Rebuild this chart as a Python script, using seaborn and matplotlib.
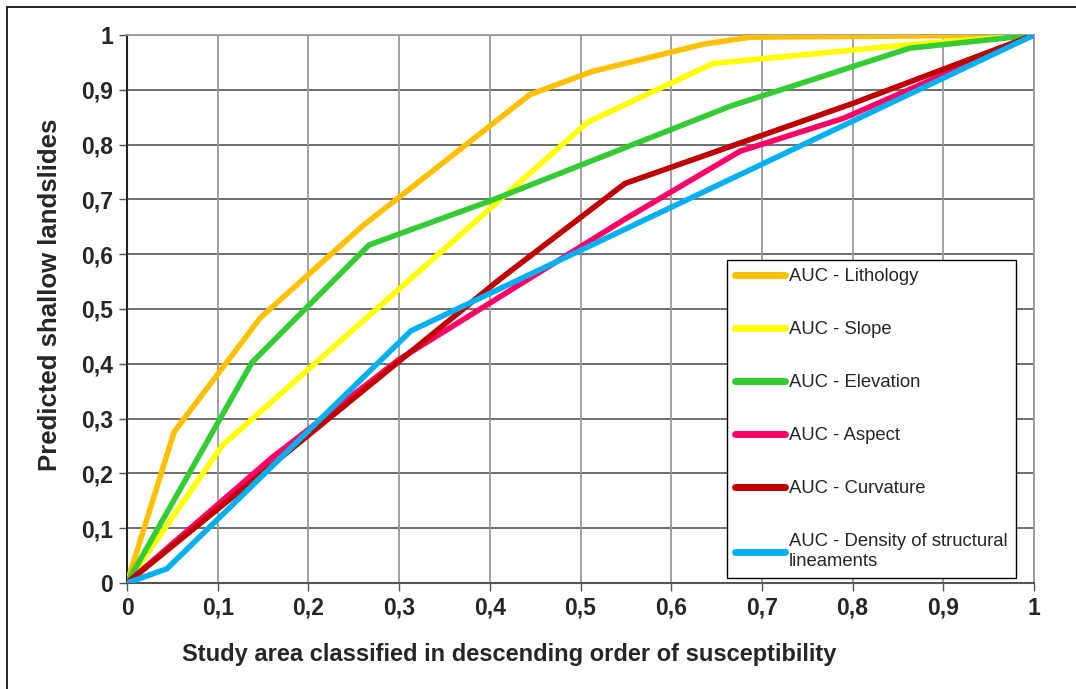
import numpy as np
import pandas as pd
import matplotlib
matplotlib.use("Agg")
import matplotlib.pyplot as plt
import seaborn as sns
from matplotlib.patches import Rectangle
from matplotlib.ticker import MultipleLocator, FuncFormatter

# ---- data ----
lith_x = [0, 0.052, 0.147, 0.260, 0.444, 0.512, 0.635, 0.687, 1.0]
lith_y = [0, 0.276, 0.484, 0.652, 0.891, 0.933, 0.983, 0.996, 1.0]

slope_x = [0, 0.105, 0.508, 0.646, 0.860, 1.0]
slope_y = [0, 0.251, 0.841, 0.948, 0.982, 1.0]

elev_x = [0, 0.138, 0.267, 0.400, 0.665, 0.863, 1.0]
elev_y = [0, 0.403, 0.617, 0.697, 0.870, 0.976, 1.0]

aspect_x = [0, 0.160, 0.300, 0.550, 0.676, 0.790, 1.0]
aspect_y = [0, 0.229, 0.408, 0.665, 0.788, 0.848, 1.0]

curv_x = [0, 0.410, 0.549, 0.800, 1.0]
curv_y = [0, 0.553, 0.729, 0.875, 1.0]

dens_x = [0, 0.044, 0.313, 1.0]
dens_y = [0, 0.026, 0.460, 1.0]

labels = ["AUC - Lithology", "AUC - Slope", "AUC - Elevation", "AUC - Aspect",
          "AUC - Curvature", "AUC - Density of structural\nlineaments"]
colors = ["#FFC000", "#FFFF00", "#33CC33", "#FF0066", "#C00000", "#00B0F0"]
series = [(lith_x, lith_y), (slope_x, slope_y), (elev_x, elev_y),
          (aspect_x, aspect_y), (curv_x, curv_y), (dens_x, dens_y)]

frames = []
for lab, (xs, ys) in zip(labels, series):
    frames.append(pd.DataFrame({"x": xs, "y": ys, "series": lab, "order": np.arange(len(xs))}))
df = pd.concat(frames, ignore_index=True)

sns.set_theme(style="white")
plt.rcParams['font.family'] = ['Liberation Sans', 'DejaVu Sans']

W, H = 1076, 689
fig = plt.figure(figsize=(W / 100, H / 100), dpi=100)
ax = fig.add_axes([127 / W, 1 - 583 / H, (1034 - 127) / W, (583 - 35) / H])

# outer frame
fig.patches.append(Rectangle((7 / W, -0.05), 1.2, 1 - 7 / H + 0.05, transform=fig.transFigure,
                             fill=False, edgecolor="black", linewidth=1.2, zorder=0))

# grid
for v in np.arange(0.1, 1.01, 0.1):
    ax.axhline(v, color="#6e6e6e", linewidth=1.4, zorder=1)
for v in np.arange(0.1, 1.01, 0.1):
    ax.axvline(v, color="#9a9a9a", linewidth=1.3, zorder=1)

sns.lineplot(data=df, x="x", y="y", hue="series", hue_order=labels, palette=colors,
             sort=False, estimator=None, units="series", linewidth=4.0, ax=ax, zorder=3,
             legend=True)

ax.set_xlim(0, 1)
ax.set_ylim(0, 1)
ax.xaxis.set_major_locator(MultipleLocator(0.1))
ax.yaxis.set_major_locator(MultipleLocator(0.1))
fmt = FuncFormatter(lambda v, p: ("%g" % round(v, 1)).replace(".", ","))
ax.xaxis.set_major_formatter(fmt)
ax.yaxis.set_major_formatter(fmt)
ax.tick_params(axis="both", which="major", direction="out", length=6, width=1,
               color="#555555", labelsize=16.5, pad=4, bottom=True, left=True)
for lab in ax.get_xticklabels() + ax.get_yticklabels():
    lab.set_fontweight("bold")

for s in ["top", "right"]:
    ax.spines[s].set_color("#9a9a9a")
    ax.spines[s].set_linewidth(1.3)
ax.spines["left"].set_color("#222222")
ax.spines["left"].set_linewidth(1.5)
ax.spines["bottom"].set_color("#555555")
ax.spines["bottom"].set_linewidth(1.5)

ax.set_xlabel("Study area classified in descending order of susceptibility",
              fontsize=17, fontweight="bold")
ax.xaxis.set_label_coords((509 - 127) / 907, (583 - 643) / 548)
ax.set_ylabel("Predicted shallow landslides", fontsize=18.5, fontweight="bold")
ax.yaxis.set_label_coords((62 - 127) / 907, (583 - 295) / 548)

handles, hl = ax.get_legend_handles_labels()
for h in handles:
    h.set_linewidth(5)
    h.set_solid_capstyle("round")
leg = ax.legend(handles, hl, loc="upper left",
                bbox_to_anchor=((727 - 127) / 907, (583 - 260) / 548),
                borderaxespad=0, frameon=True, fancybox=False, fontsize=13.3,
                handlelength=2.7, handletextpad=0.2, labelspacing=1.95,
                borderpad=0.45, edgecolor="black", framealpha=1)
leg.get_frame().set_linewidth(1.0)
leg.set_zorder(5)

fig.savefig("out.png", dpi=100)
